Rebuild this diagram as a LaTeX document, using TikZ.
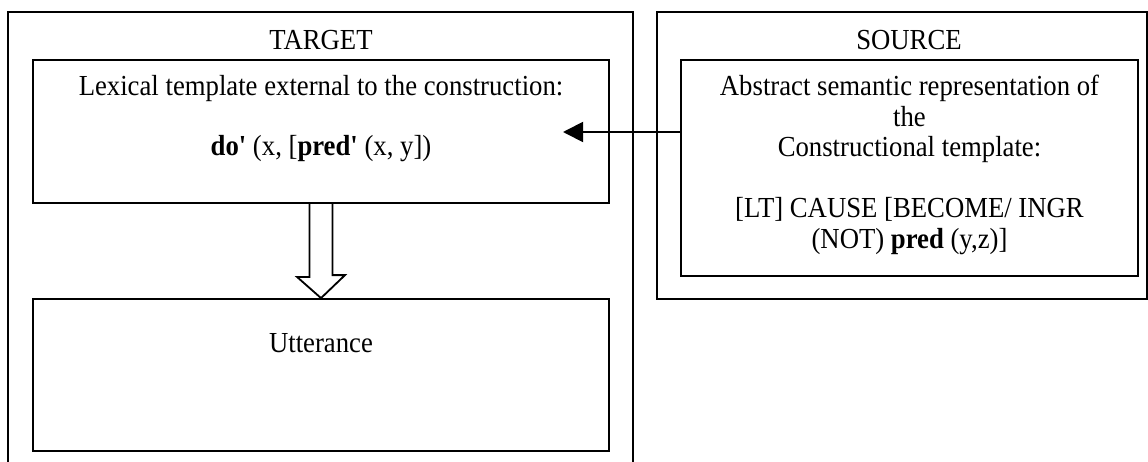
\documentclass[tikz,border=0pt]{standalone}
\usepackage{fontspec}
\setmainfont{Liberation Serif}[Ligatures=TeXOff,FakeStretch=0.92]
\usetikzlibrary{arrows.meta,calc,fit}
\begin{document}
\begin{tikzpicture}[x=0.4132pt,y=-0.4132pt,line width=0.75pt,
  box/.style={draw,rectangle,inner sep=0pt},
  txt/.style={anchor=base,inner sep=0pt,font=\fontsize{12pt}{14pt}\selectfont}]
\useasboundingbox (0,0) rectangle (1148,461);

% TARGET frame (runs off the bottom edge)
\coordinate (tl) at (8,12);
\coordinate (tr) at (633,12);
\draw (8,470) -- (tl) -- (tr) -- (633,470);
\node[txt] (tgtlabel) at (321,49) {TARGET};

% SOURCE frame
\node[box,fit={(657,12) (1147,299)}] (src) {};
\node[txt] (srclabel) at (909,49) {SOURCE};

% boxes
\node[box,fit={(33,60) (609,203)}] (lex) {};
\node[box,fit={(33,299) (609,451)}] (utt) {};
\node[box,fit={(681,60) (1138,276)}] (srcin) {};

% texts
\node[txt] (lex1) at (321,95) {Lexical template external to the construction:};
\node[txt] (lex2) at (321,155) {\textbf{do'} (x, [\textbf{pred'} (x, y])};
\node[txt] (utt1) at (321,352) {Utterance};
\node[txt] (s1) at (909.5,95) {Abstract semantic representation of};
\node[txt] (s2) at (909.5,126) {the};
\node[txt] (s3) at (909.5,156) {Constructional template:};
\node[txt] (s4) at (909.5,217) {[LT] CAUSE [BECOME/ INGR};
\node[txt] (s5) at (909.5,248) {(NOT) \textbf{pred} (y,z)]};

% mapping arrow from source to target
\coordinate (tip) at (563,132);
\draw[-{Triangle[length=8.3pt,width=8.3pt]}] (srcin.west |- tip) -- (tip);

% hollow block arrow between the target boxes
\draw[line join=miter] ($(lex.south)+(-11.5,0)$) -- ++(0,73) -- ++(-12.5,0)
  -- (utt.north) -- ++(24,-23) -- ++(-12.5,0) -- ++(0,-73);
\end{tikzpicture}
\end{document}
